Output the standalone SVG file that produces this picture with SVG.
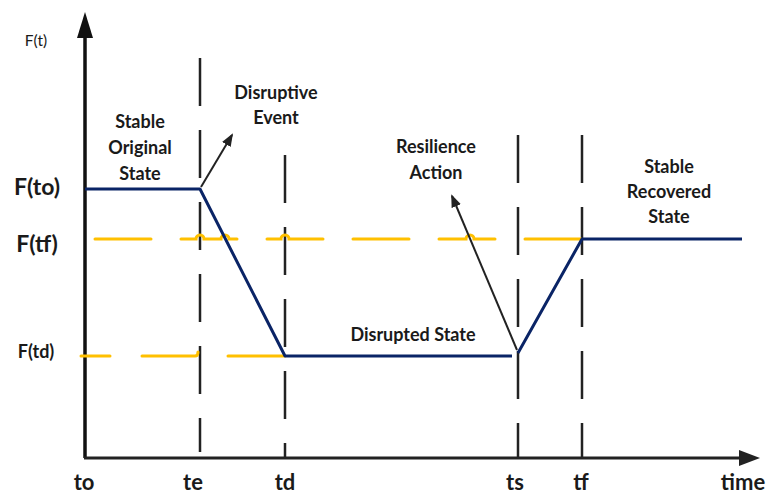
<svg xmlns="http://www.w3.org/2000/svg" width="769" height="495" viewBox="0 0 769 495">
<style>
text{font-family:Lato,"Open Sans","Liberation Sans",sans-serif;fill:#1a1a1a;font-weight:bold;text-anchor:middle}
.lbl{font-size:18px}
.ax{font-size:22px}
.vd{stroke:#222;stroke-width:2.5;fill:none;stroke-dasharray:48 24}
.or{stroke:#FFC000;stroke-width:3;fill:none;stroke-linecap:round}
.bl{stroke:#0A2466;stroke-width:3;fill:none;stroke-linejoin:round}
.ann{stroke:#222;stroke-width:2;fill:none}
</style>
<defs>
<marker id="ah" markerWidth="13" markerHeight="11" refX="11" refY="5" orient="auto" markerUnits="userSpaceOnUse" viewBox="0 0 13 10">
<path d="M0,0 L13,5 L0,10 Z" fill="#222"/>
</marker>
</defs>
<rect width="769" height="495" fill="#fff"/>
<g id="axes">
<line x1="85" y1="458" x2="85" y2="34" stroke="#111" stroke-width="3.5"/>
<polygon points="85,12 77,38 93,38" fill="#111"/>
<line x1="84" y1="458" x2="742" y2="458" stroke="#222" stroke-width="3"/>
<polygon points="760,458 739,450 739,466" fill="#222"/>
</g>
<g id="guides">
<line class="vd" x1="200" y1="58" x2="200" y2="452"/>
<line class="vd" x1="285" y1="155" x2="285" y2="458"/>
<line class="vd" x1="518" y1="135" x2="518" y2="458"/>
<line class="vd" x1="582" y1="135" x2="582" y2="458"/>
<path class="or" d="M95,239 H151 M181,239 H196 a4,4 0 0 1 8,0 H221 a4,4 0 0 1 8,0 H237 M267,239 H281 a4,4 0 0 1 8,0 H323 M353,239 H409 M439,239 H466 a4,4 0 0 1 8,0 H495 M525,239 H581"/>
<path class="or" d="M81,356 H110 M142,356 H195 q3,0 3,-4 M228,356 H285"/>
</g>
<g id="curve">
<polyline class="bl" points="85,189 200,189 285,356 512,356"/>
<polyline class="bl" points="518,353 582,239 742,239"/>
</g>
<g id="connectors">
<line class="ann" x1="201" y1="187" x2="232" y2="135" marker-end="url(#ah)"/>
<line class="ann" x1="517" y1="350" x2="452" y2="196" marker-end="url(#ah)"/>
</g>
<g id="y-labels">
<text x="36" y="46" style="font-size:15.5px;font-weight:normal">F(t)</text>
<text x="37" y="195" style="font-size:23px">F(to)</text>
<text x="37" y="252" style="font-size:23px">F(tf)</text>
<text x="36" y="358" style="font-size:18px">F(td)</text>
</g>
<g id="node-stable-original">
<text class="lbl" x="140" y="128">Stable</text>
<text class="lbl" x="140" y="154">Original</text>
<text class="lbl" x="140" y="180">State</text>
</g>
<g id="node-disruptive-event">
<text class="lbl" x="276" y="99">Disruptive</text>
<text class="lbl" x="276" y="124">Event</text>
</g>
<g id="node-resilience-action">
<text class="lbl" x="436" y="153">Resilience</text>
<text class="lbl" x="436" y="179">Action</text>
</g>
<g id="node-stable-recovered">
<text class="lbl" x="669" y="173">Stable</text>
<text class="lbl" x="669" y="198">Recovered</text>
<text class="lbl" x="669" y="223">State</text>
</g>
<g id="node-disrupted-state">
<text class="lbl" x="413" y="341">Disrupted State</text>
</g>
<g id="x-labels">
<text class="ax" x="84" y="490">to</text>
<text class="ax" x="193" y="490">te</text>
<text class="ax" x="285" y="490">td</text>
<text class="ax" x="515" y="490">ts</text>
<text class="ax" x="581" y="490">tf</text>
<text class="ax" x="743" y="490">time</text>
</g>
</svg>
